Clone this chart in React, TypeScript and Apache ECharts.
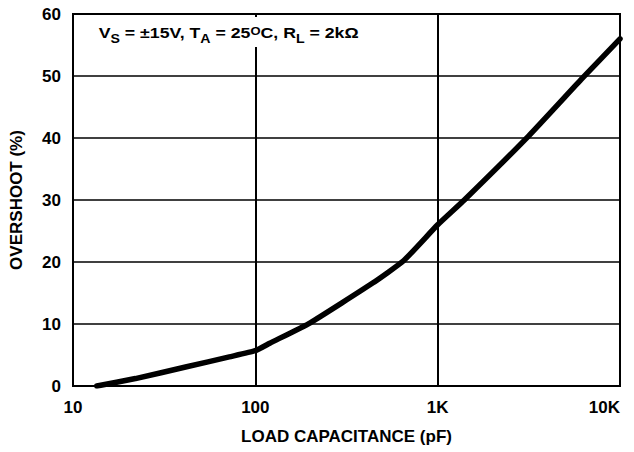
import React, { useEffect, useRef } from "react";
import * as echarts from "echarts";

// Data
const capacitancePF = [13.5, 22, 42, 72, 100, 120, 200, 440, 650, 1000, 1400, 3150, 6200, 10000];
const overshootPct = [0, 1.2, 3.1, 4.7, 5.7, 6.9, 10.2, 16.6, 20.2, 26, 30, 40.3, 49.6, 56];

const xTickValues = [10, 100, 1000, 10000];
const xTickLabels = ["10", "100", "1K", "10K"];

const xAxisTitle = "LOAD CAPACITANCE (pF)";
const yAxisTitle = "OVERSHOOT (%)";
const conditionText = "{n|V}{s|S}{n| = \u00B115V, T}{s|A}{n| = 25}{o|O}{n|C, R}{s|L}{n| = 2k\u03A9}";

const FONT = "'Liberation Sans', Arial, Helvetica, sans-serif";

export default function App() {
  const ref = useRef<HTMLDivElement>(null);

  useEffect(() => {
    if (!ref.current) return;
    const chart = echarts.init(ref.current, undefined, { renderer: "svg" });
    const data = capacitancePF.map((c, i) => [c, overshootPct[i]]);
    chart.setOption({
      animation: false,
      backgroundColor: "#ffffff",
      textStyle: { fontFamily: FONT },
      grid: {
        left: 73,
        right: 14,
        top: 14,
        bottom: 66,
        show: true,
        borderColor: "#000",
        borderWidth: 2,
        containLabel: false,
      },
      xAxis: {
        type: "log",
        logBase: 10,
        min: 10,
        max: 10000,
        name: xAxisTitle,
        nameLocation: "middle",
        nameGap: 42,
        nameTextStyle: { fontSize: 17, fontWeight: "bold", color: "#000", fontFamily: FONT },
        axisLine: { show: true, lineStyle: { color: "#000", width: 2 } },
        axisTick: { show: false },
        minorTick: { show: false },
        minorSplitLine: { show: false },
        axisLabel: {
          margin: 13,
          fontSize: 17,
          fontWeight: "bold",
          color: "#000",
          fontFamily: FONT,
          alignMaxLabel: "right",
          formatter: (v: number) => {
            const i = xTickValues.indexOf(Math.round(v));
            return i >= 0 ? xTickLabels[i] : "";
          },
        },
        splitLine: { show: true, lineStyle: { color: "#000", width: 2 } },
      },
      yAxis: {
        type: "value",
        min: 0,
        max: 60,
        interval: 10,
        name: yAxisTitle,
        nameLocation: "middle",
        nameGap: 48,
        nameTextStyle: { fontSize: 17, fontWeight: "bold", color: "#000", fontFamily: FONT },
        axisLine: { show: true, lineStyle: { color: "#000", width: 2 } },
        axisTick: { show: false },
        axisLabel: {
          margin: 12,
          fontSize: 17,
          fontWeight: "bold",
          color: "#000",
          fontFamily: FONT,
        },
        splitLine: { show: true, lineStyle: { color: "#000", width: 1.5 } },
      },
      series: [
        {
          type: "line",
          data,
          showSymbol: false,
          smooth: 0.15,
          lineStyle: { color: "#000", width: 5.5, cap: "round", join: "round" },
          z: 5,
        },
      ],
      graphic: [
        {
          type: "text",
          x: 94,
          y: 17,
          scaleX: 1.18,
          z: 10,
          style: {
            text: conditionText,
            fill: "#000",
            fontFamily: FONT,
            fontWeight: "bold",
            fontSize: 15,
            verticalAlign: "top",
            align: "left",
            backgroundColor: "#ffffff",
            padding: [4, 4, 2, 4],
            rich: {
              n: { fontSize: 15, fontWeight: "bold", fontFamily: FONT, lineHeight: 24, verticalAlign: "middle", fill: "#000" },
              s: { fontSize: 12, fontWeight: "bold", fontFamily: FONT, lineHeight: 12, verticalAlign: "bottom", fill: "#000" },
              o: { fontSize: 11, fontWeight: "bold", fontFamily: FONT, verticalAlign: "top", padding: [5, 0, 0, 0], fill: "#000" },
            },
          },
        },
      ],
    });
    return () => chart.dispose();
  }, []);

  return (
    <div
      ref={ref}
      style={{ position: "fixed", left: 0, top: 0, width: 634, height: 452, background: "#fff" }}
    />
  );
}
